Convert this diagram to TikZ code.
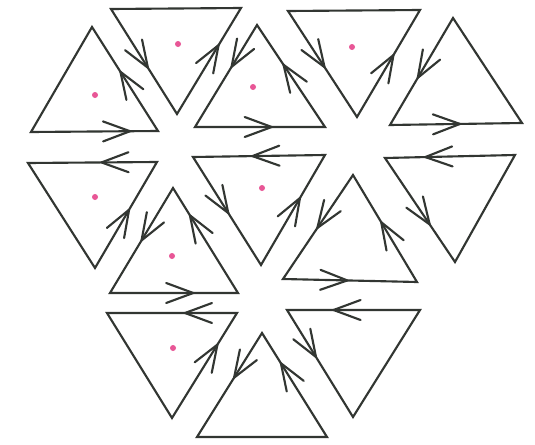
\documentclass[tikz,border=0pt]{standalone}
\usetikzlibrary{decorations.markings}

\definecolor{ink}{RGB}{50,54,50}
\definecolor{dotpink}{RGB}{232,86,150}

\tikzset{
  tri/.style={draw=ink, line width=1.6pt, line join=miter},
  chev/.style={draw=ink, line width=1.6pt, line cap=round, line join=round},
  flow/.style={postaction={decorate},
    decoration={markings, mark=at position #1 with {\draw[chev] (-27,10) -- (0,0) -- (-27,-10);}}},
  spot/.style={fill=dotpink, draw=none}
}

\begin{document}
\begin{tikzpicture}[x=0.0265cm, y=-0.0265cm]
    \useasboundingbox[fill=white] (0,0) rectangle (535,445);

    % upper row
    \coordinate (t1a) at (92,27);   \coordinate (t1b) at (31,132);  \coordinate (t1c) at (158,131);
    \coordinate (t2a) at (111,9);   \coordinate (t2b) at (241,8);   \coordinate (t2c) at (177,114);
    \coordinate (t3a) at (257,25);  \coordinate (t3b) at (195,127); \coordinate (t3c) at (325,127);
    \coordinate (t4a) at (288,11);  \coordinate (t4b) at (420,10);  \coordinate (t4c) at (357,117);
    \coordinate (t5a) at (453,18);  \coordinate (t5b) at (390,125); \coordinate (t5c) at (522,123);
    % middle row
    \coordinate (t6a) at (28,163);  \coordinate (t6b) at (157,162); \coordinate (t6c) at (95,268);
    \coordinate (t7a) at (193,157); \coordinate (t7b) at (325,155); \coordinate (t7c) at (261,265);
    \coordinate (t8a) at (385,158); \coordinate (t8b) at (515,155); \coordinate (t8c) at (455,262);
    \coordinate (t9a) at (173,188); \coordinate (t9b) at (110,293); \coordinate (t9c) at (238,293);
    \coordinate (t10a) at (353,175); \coordinate (t10b) at (283,279); \coordinate (t10c) at (417,282);
    % lower row
    \coordinate (t11a) at (107,313); \coordinate (t11b) at (237,313); \coordinate (t11c) at (172,418);
    \coordinate (t12a) at (262,333); \coordinate (t12b) at (197,437); \coordinate (t12c) at (327,437);
    \coordinate (t13a) at (287,310); \coordinate (t13b) at (420,310); \coordinate (t13c) at (353,417);

    \foreach \t in {1,...,13}
      \draw[tri] (t\t a) -- (t\t b) -- (t\t c) -- cycle;

    % arrows on the edges
    \path[flow=0.57] (t1c) -- (t1a);
    \path[flow=0.78] (t1b) -- (t1c);
    \path[flow=0.56] (t2a) -- (t2c);
    \path[flow=0.65] (t2c) -- (t2b);
    \path[flow=0.41] (t3a) -- (t3b);
    \path[flow=0.61] (t3c) -- (t3a);
    \path[flow=0.59] (t3b) -- (t3c);
    \path[flow=0.53] (t4a) -- (t4c);
    \path[flow=0.58] (t4c) -- (t4b);
    \path[flow=0.56] (t5a) -- (t5b);
    \path[flow=0.53] (t5b) -- (t5c);
    \path[flow=0.43] (t6b) -- (t6a);
    \path[flow=0.55] (t6c) -- (t6b);
    \path[flow=0.55] (t7b) -- (t7a);
    \path[flow=0.52] (t7a) -- (t7c);
    \path[flow=0.61] (t7c) -- (t7b);
    \path[flow=0.69] (t8b) -- (t8a);
    \path[flow=0.64] (t8a) -- (t8c);
    \path[flow=0.50] (t9a) -- (t9b);
    \path[flow=0.74] (t9c) -- (t9a);
    \path[flow=0.65] (t9b) -- (t9c);
    \path[flow=0.51] (t10a) -- (t10b);
    \path[flow=0.56] (t10c) -- (t10a);
    \path[flow=0.48] (t10b) -- (t10c);
    \path[flow=0.40] (t11b) -- (t11a);
    \path[flow=0.70] (t11c) -- (t11b);
    \path[flow=0.43] (t12a) -- (t12b);
    \path[flow=0.71] (t12c) -- (t12a);
    \path[flow=0.65] (t13b) -- (t13a);
    \path[flow=0.44] (t13a) -- (t13c);

    % pink dots
    \foreach \p in {(95,95), (178,44), (253,87), (352,47), (95,197), (262,188), (172,256), (173,348)}
      \fill[spot] \p circle (3);
\end{tikzpicture}
\end{document}
